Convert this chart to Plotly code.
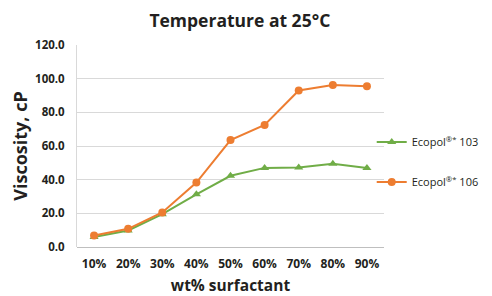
import plotly.graph_objects as go

categories = ["10%", "20%", "30%", "40%", "50%", "60%", "70%", "80%", "90%"]
ecopol_103 = [6.0, 9.8, 19.5, 31.3, 42.3, 47.0, 47.3, 49.5, 46.9]
ecopol_106 = [6.8, 10.8, 20.5, 38.3, 63.5, 72.5, 93.0, 96.3, 95.5]
y_ticks = [0, 20, 40, 60, 80, 100, 120]

font_family = "Open Sans, DejaVu Sans, sans-serif"
dark = "#231f20"

fig = go.Figure()
fig.add_trace(go.Scatter(
    x=categories, y=ecopol_103, mode="lines+markers",
    name="Ecopol<sup>®*</sup> 103",
    line=dict(color="#70AD47", width=2),
    marker=dict(symbol="triangle-up", size=8, color="#70AD47"),
    legend="legend",
))
fig.add_trace(go.Scatter(
    x=categories, y=ecopol_106, mode="lines+markers",
    name="Ecopol<sup>®*</sup> 106",
    line=dict(color="#ED7D31", width=2),
    marker=dict(symbol="circle", size=8, color="#ED7D31"),
    legend="legend2",
))

legend_common = dict(
    xanchor="left", yanchor="middle",
    font=dict(family=font_family, size=11, color=dark),
    bgcolor="rgba(0,0,0,0)", itemwidth=30,
)

# page body has an 8px margin, so the figure is sized to fill the rest
fig.update_layout(
    width=484, height=288,
    margin=dict(l=69, r=108, t=37, b=49, autoexpand=False),
    paper_bgcolor="white", plot_bgcolor="white",
    title=dict(text="<b>Temperature at 25°C</b>", x=0.479, xanchor="center",
               y=0.955, yanchor="middle",
               font=dict(family=font_family, size=17.5, color=dark)),
    showlegend=True,
    legend=dict(x=0.96, y=0.52, **legend_common),
    legend2=dict(x=0.96, y=0.322, **legend_common),
    xaxis=dict(
        type="category", range=[-0.5, 8.5], automargin=False,
        showgrid=False, showline=False, ticks="", ticklabelstandoff=8,
        tickfont=dict(family=font_family, size=12, color=dark, weight="bold"),
        title=dict(text="<b>wt% surfactant</b>", standoff=12,
                   font=dict(family=font_family, size=15.5, color=dark)),
    ),
    yaxis=dict(
        range=[0, 120], tickvals=y_ticks, tickformat=".1f", automargin=False,
        showgrid=True, gridcolor="#d9d9d9", gridwidth=1,
        zeroline=True, zerolinecolor="#bfbfbf", zerolinewidth=1,
        showline=True, linecolor="#d9d9d9", linewidth=1,
        ticks="", ticklabelstandoff=9,
        tickfont=dict(family=font_family, size=11.5, color=dark, weight="bold"),
        title=dict(text="<b>Viscosity, cP</b>", standoff=2,
                   font=dict(family=font_family, size=18, color=dark)),
    ),
)

fig.write_html("out.html")
